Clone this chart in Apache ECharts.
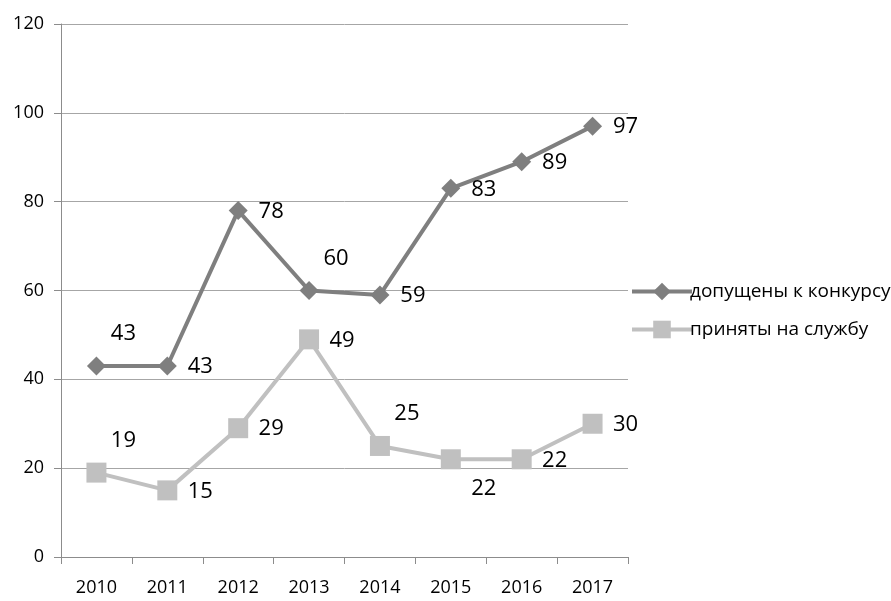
<!DOCTYPE html>
<html>
<head>
<meta charset="utf-8">
<script src="https://cdn.jsdelivr.net/npm/echarts@6/dist/echarts.min.js"></script>
<style>
  html, body { margin: 0; padding: 0; background: #fff; }
  #chart { width: 891px; height: 601px; }
</style>
</head>
<body>
<div id="chart"></div>
<script>
// Categories and series values
var years = ['2010', '2011', '2012', '2013', '2014', '2015', '2016', '2017'];
var admitted = [43, 43, 78, 60, 59, 83, 89, 97];
var hired = [19, 15, 29, 49, 25, 22, 22, 30];
var seriesNames = ['допущены к конкурсу', 'приняты на службу'];
var yTicks = [0, 20, 40, 60, 80, 100, 120];

// Where each value label sits relative to its point
var admittedPlace = ['ur', 'r', 'r', 'ur', 'r', 'r', 'r', 'r'];
var hiredPlace = ['ur', 'r', 'r', 'r', 'ur', 'dr', 'r', 'r'];
var placeOffset = { r: [33, 1], ur: [27, -32], dr: [33, 29] };

var FONT = '"Open Sans", sans-serif';

function withLabels(values, places) {
  return values.map(function (v, i) {
    return {
      value: v,
      label: { position: 'inside', offset: placeOffset[places[i]] }
    };
  });
}

var labelStyle = {
  show: true,
  color: '#000',
  fontFamily: FONT,
  fontSize: 22,
  align: 'center',
  verticalAlign: 'middle'
};

var chart = echarts.init(document.getElementById('chart'), null, { renderer: 'canvas' });
chart.setOption({
  animation: false,
  backgroundColor: '#fff',
  grid: { left: 61, right: 263, top: 24, bottom: 44, containLabel: false },
  legend: {
    orient: 'vertical',
    left: 625,
    top: 277,
    itemWidth: 60,
    itemHeight: 22,
    itemGap: 19,
    data: seriesNames,
    lineStyle: { width: 4 },
    textStyle: { color: '#000', fontFamily: FONT, fontSize: 19, padding: [0, 0, 0, -7] }
  },
  xAxis: {
    type: 'category',
    data: years,
    boundaryGap: true,
    axisLine: { lineStyle: { color: '#8c8c8c', width: 1 } },
    axisTick: { show: true, length: 7, lineStyle: { color: '#8c8c8c' } },
    axisLabel: { color: '#000', fontFamily: FONT, fontSize: 18, margin: 22 },
    splitLine: { show: false }
  },
  yAxis: {
    type: 'value',
    min: yTicks[0],
    max: yTicks[yTicks.length - 1],
    interval: yTicks[1] - yTicks[0],
    axisLine: { show: true, lineStyle: { color: '#8c8c8c', width: 1 } },
    axisTick: { show: true, length: 7, lineStyle: { color: '#8c8c8c' } },
    axisLabel: { color: '#000', fontFamily: FONT, fontSize: 18, margin: 17 },
    splitLine: { show: true, lineStyle: { color: '#a6a6a6', width: 1 } }
  },
  series: [
    {
      name: seriesNames[0],
      type: 'line',
      data: withLabels(admitted, admittedPlace),
      symbol: 'diamond',
      symbolSize: 19,
      showAllSymbol: true,
      lineStyle: { color: '#7f7f7f', width: 4 },
      itemStyle: { color: '#7f7f7f' },
      label: labelStyle,
      z: 3
    },
    {
      name: seriesNames[1],
      type: 'line',
      data: withLabels(hired, hiredPlace),
      symbol: 'rect',
      symbolSize: 20,
      showAllSymbol: true,
      lineStyle: { color: '#c0c0c0', width: 4 },
      itemStyle: { color: '#c0c0c0' },
      label: labelStyle,
      z: 2
    }
  ]
});
</script>
</body>
</html>
